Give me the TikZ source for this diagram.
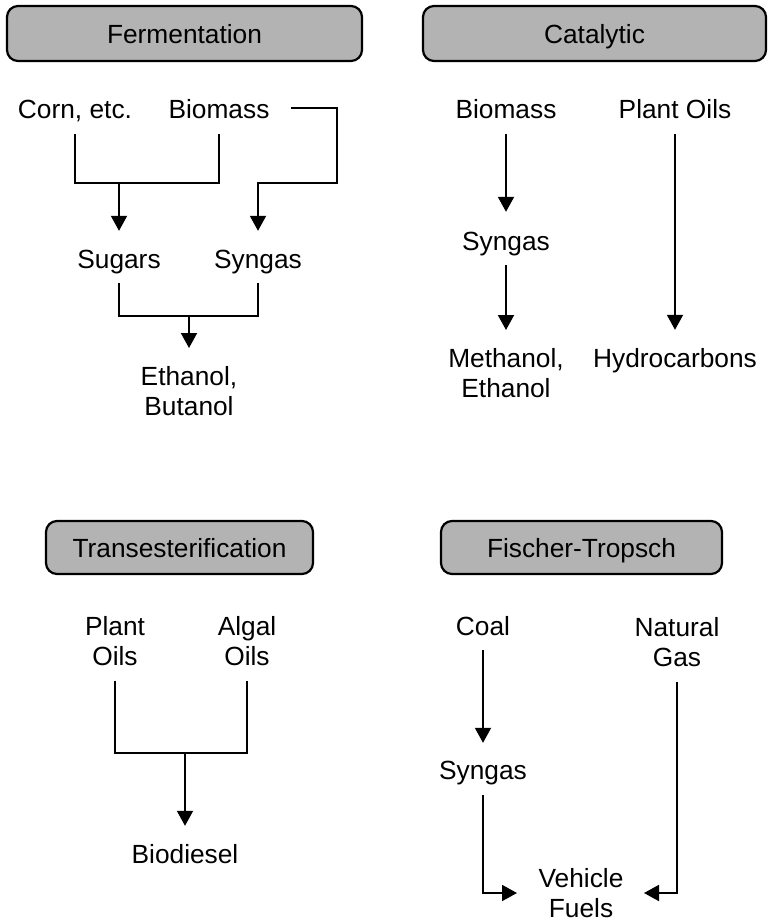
\documentclass[tikz,border=0pt]{standalone}
\usepackage{fontspec}
\setmainfont{Liberation Sans}
\usetikzlibrary{arrows.meta}
\definecolor{hdrgray}{HTML}{B3B3B3}
\newcommand{\dfont}{\fontsize{26.3}{30}\selectfont}
\begin{document}
\begin{tikzpicture}[x=1pt,y=-1pt,
  lbl/.style={inner sep=0pt,font=\dfont,text height=19pt,text depth=5pt,anchor=base},
  ml/.style={inner sep=0pt,font=\dfont,align=center,anchor=north},
  hdr/.style={draw,fill=hdrgray,rounded corners=11pt,line width=2.2pt,inner sep=0pt,
    font=\dfont,text height=19pt,text depth=0pt},
  ln/.style={line width=1.9pt},
  arr/.style={line width=1.9pt,-{Triangle[width=16pt,length=15pt]}}]
\useasboundingbox (0,0) rectangle (768,922);
% headers
\node[hdr,minimum width=355pt,minimum height=55pt] (fer) at (184.5,33.5) {Fermentation};
\node[hdr,minimum width=343pt,minimum height=55pt] (cat) at (594.5,33.5) {Catalytic};
\node[hdr,minimum width=267pt,minimum height=53pt] (tra) at (179.5,547.5) {Transesterification};
\node[hdr,minimum width=281pt,minimum height=53pt] (fis) at (581.5,547.5) {Fischer-Tropsch};
% Fermentation
\node[lbl] (corn) at (75,118) {Corn, etc.};
\node[lbl] (bio1) at (219,118) {Biomass};
\node[lbl] (sug) at (119,268) {Sugars};
\node[lbl] (syn1) at (258,268) {Syngas};
\node[ml] (eth) at (189,366) {Ethanol,\\Butanol};
\coordinate (fj1) at (119,183);
\coordinate (fr) at (337,183);
\coordinate (fj2) at (189,316);
\draw[ln] ([yshift=-11pt]corn.south) |- (fj1) -| ([yshift=-11pt]bio1.south);
\draw[arr] (fj1) -- ([yshift=18pt]sug.north);
\draw[arr] ([xshift=21pt,yshift=10pt]bio1.base east) -| (fr) -| ([yshift=18pt]syn1.north);
\draw[ln] ([yshift=-10pt]sug.south) |- (fj2) -| ([yshift=-10pt]syn1.south);
\draw[arr] (fj2) -- ([yshift=18pt]eth.north);
% Catalytic
\node[lbl] (bio2) at (506,118) {Biomass};
\node[lbl] (pl1) at (675,118) {Plant Oils};
\node[lbl] (syn2) at (506,250) {Syngas};
\node[ml] (meth) at (506,348) {Methanol,\\Ethanol};
\node[lbl] (hyd) at (675,367) {Hydrocarbons};
\draw[arr] ([yshift=-11pt]bio2.south) -- ([yshift=19pt]syn2.north);
\draw[arr] ([yshift=-10pt]syn2.south) -- ([yshift=18pt]meth.north);
\draw[arr] ([yshift=-11pt]pl1.south) -- ([yshift=18pt]hyd.north);
% Transesterification
\node[ml] (pl2) at (115,616) {Plant\\Oils};
\node[ml] (alg) at (247,616) {Algal\\Oils};
\node[lbl] (bd) at (185,863) {Biodiesel};
\coordinate (tj) at (185,753);
\draw[ln] ([yshift=-15pt]pl2.south) |- (tj) -| ([yshift=-15pt]alg.south);
\draw[arr] (tj) -- ([yshift=18pt]bd.north);
% Fischer-Tropsch
\node[lbl] (coal) at (483,635) {Coal};
\node[ml] (ng) at (677,617) {Natural\\Gas};
\node[lbl] (syn3) at (483,779) {Syngas};
\node[ml] (veh) at (581,868) {Vehicle\\Fuels};
\coordinate (vinL) at (517,893);
\coordinate (vinR) at (644,893);
\draw[arr] ([yshift=-10pt]coal.south) -- ([yshift=17pt]syn3.north);
\draw[arr] ([yshift=-11pt]syn3.south) |- (vinL);
\draw[arr] ([yshift=-15pt]ng.south) |- (vinR);
\end{tikzpicture}
\end{document}
